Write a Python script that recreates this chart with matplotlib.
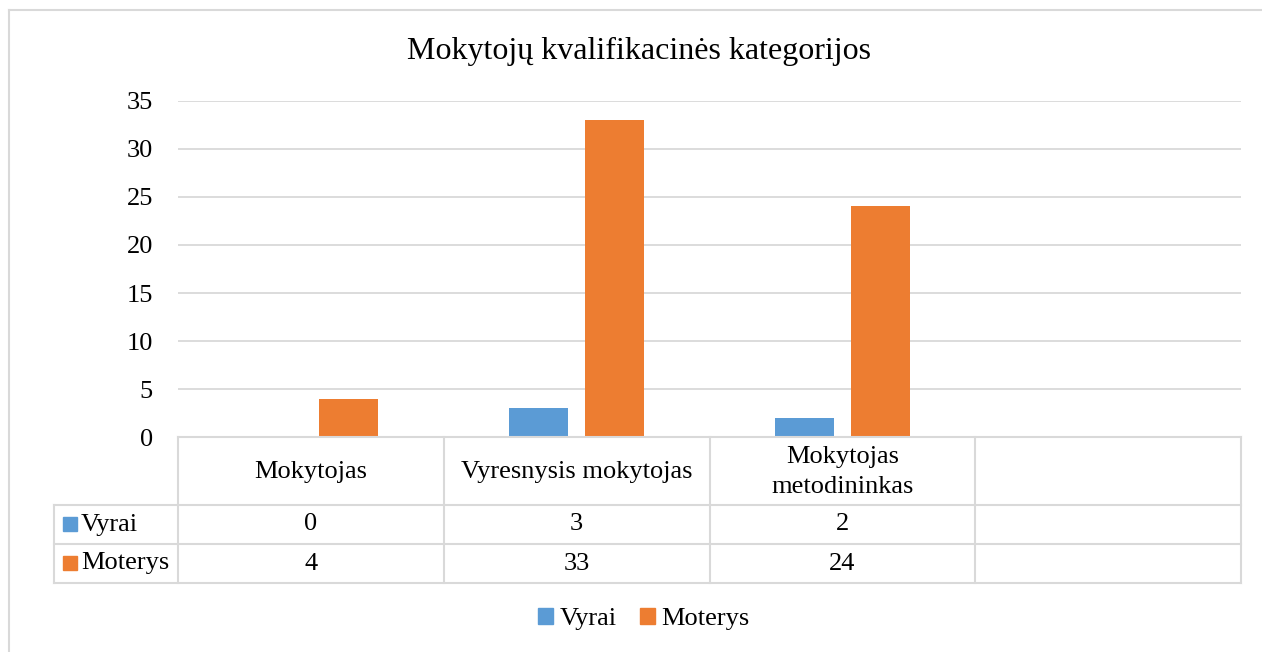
import matplotlib
matplotlib.use("Agg")
import matplotlib.pyplot as plt
from matplotlib.patches import Patch, Rectangle
from matplotlib.lines import Line2D
import numpy as np

plt.rcParams["font.family"] = ["Liberation Serif", "DejaVu Serif"]

TITLE = "Mokytojų kvalifikacinės kategorijos"
categories = ["Mokytojas", "Vyresnysis mokytojas", "Mokytojas\nmetodininkas", ""]
series_names = ["Vyrai", "Moterys"]
vyrai = [0, 3, 2]
moterys = [4, 33, 24]
yticks = [0, 5, 10, 15, 20, 25, 30, 35]

BLUE = "#5B9BD5"
ORANGE = "#ED7D31"
GRID = "#d9d9d9"
FS = 19

W, H = 1262, 652
def fx(px): return px / W
def fy(py): return 1 - py / H

fig = plt.figure(figsize=(W / 100, H / 100), dpi=100)

# plot area
L, R, T, B = 178, 1241, 100.7, 437.3
ax = fig.add_axes([fx(L), fy(B), fx(R) - fx(L), fy(T) - fy(B)])
x = np.arange(len(categories))
bw, off = 0.222, 0.143
ax.bar(x[:len(vyrai)] - off, vyrai, bw, color=BLUE, zorder=3)
ax.bar(x[:len(moterys)] + off, moterys, bw, color=ORANGE, zorder=3)
ax.set_xlim(-0.5, len(categories) - 0.5)
ax.set_ylim(0, 35)
ax.set_yticks(yticks)
ax.set_xticks([])
ax.grid(axis="y", color=GRID, lw=1.3, zorder=0)
for s in ax.spines.values():
    s.set_visible(False)
ax.tick_params(axis="y", length=0, pad=18, labelsize=FS)

# data table under the plot
ROWS = [437.3, 505, 544, 583]
tab = fig.add_axes([fx(L), fy(ROWS[-1]), fx(R) - fx(L), fy(ROWS[0]) - fy(ROWS[-1])])
tab.set_xlim(-0.5, len(categories) - 0.5)
tab.set_ylim(ROWS[-1], ROWS[0])
tab.axis("off")
cw = (R - L) / len(categories)
def xd(px): return -0.5 + (px - L) / cw
xl = xd(54)
xr = len(categories) - 0.5
lk = dict(color=GRID, lw=1.5, clip_on=False, solid_capstyle="projecting")
tab.plot([-0.5, xr], [ROWS[0]] * 2, **lk)
for yy in ROWS[1:]:
    tab.plot([xl, xr], [yy, yy], **lk)
for i in range(len(categories) + 1):
    tab.plot([i - 0.5] * 2, [ROWS[0], ROWS[-1]], **lk)
tab.plot([xl, xl], [ROWS[1], ROWS[-1]], **lk)

for i, c in enumerate(categories):
    tab.text(i, (ROWS[0] + ROWS[1]) / 2 + 1, c, ha="center", va="center",
             fontsize=FS, linespacing=1.5)
for r, (name, vals, col) in enumerate(zip(series_names, [vyrai, moterys], [BLUE, ORANGE])):
    yc = (ROWS[r + 1] + ROWS[r + 2]) / 2
    tab.add_patch(Rectangle((xd(63), yc - 7.5), 14 / cw, 14, color=col, clip_on=False))
    tab.text(xd(81), yc, name, ha="left", va="center", fontsize=FS)
    for i, v in enumerate(vals):
        tab.text(i, yc, str(v), ha="center", va="center", fontsize=FS)

fig.text(fx(639), fy(59), TITLE, ha="center", va="baseline", fontsize=23)

fig.legend(handles=[Patch(color=BLUE), Patch(color=ORANGE)], labels=series_names,
           loc="center", bbox_to_anchor=(fx(644), fy(619)), ncol=2, frameon=False,
           fontsize=FS, handlelength=0.55, handleheight=0.55, handletextpad=0.25,
           columnspacing=0.9)

# chart border (left and top visible)
fig.add_artist(Line2D([fx(8.5), fx(8.5)], [fy(10), 0], color=GRID, lw=1.5))
fig.add_artist(Line2D([fx(8.5), 1], [fy(10), fy(10)], color=GRID, lw=1.5))

fig.savefig("out.png", dpi=100)
